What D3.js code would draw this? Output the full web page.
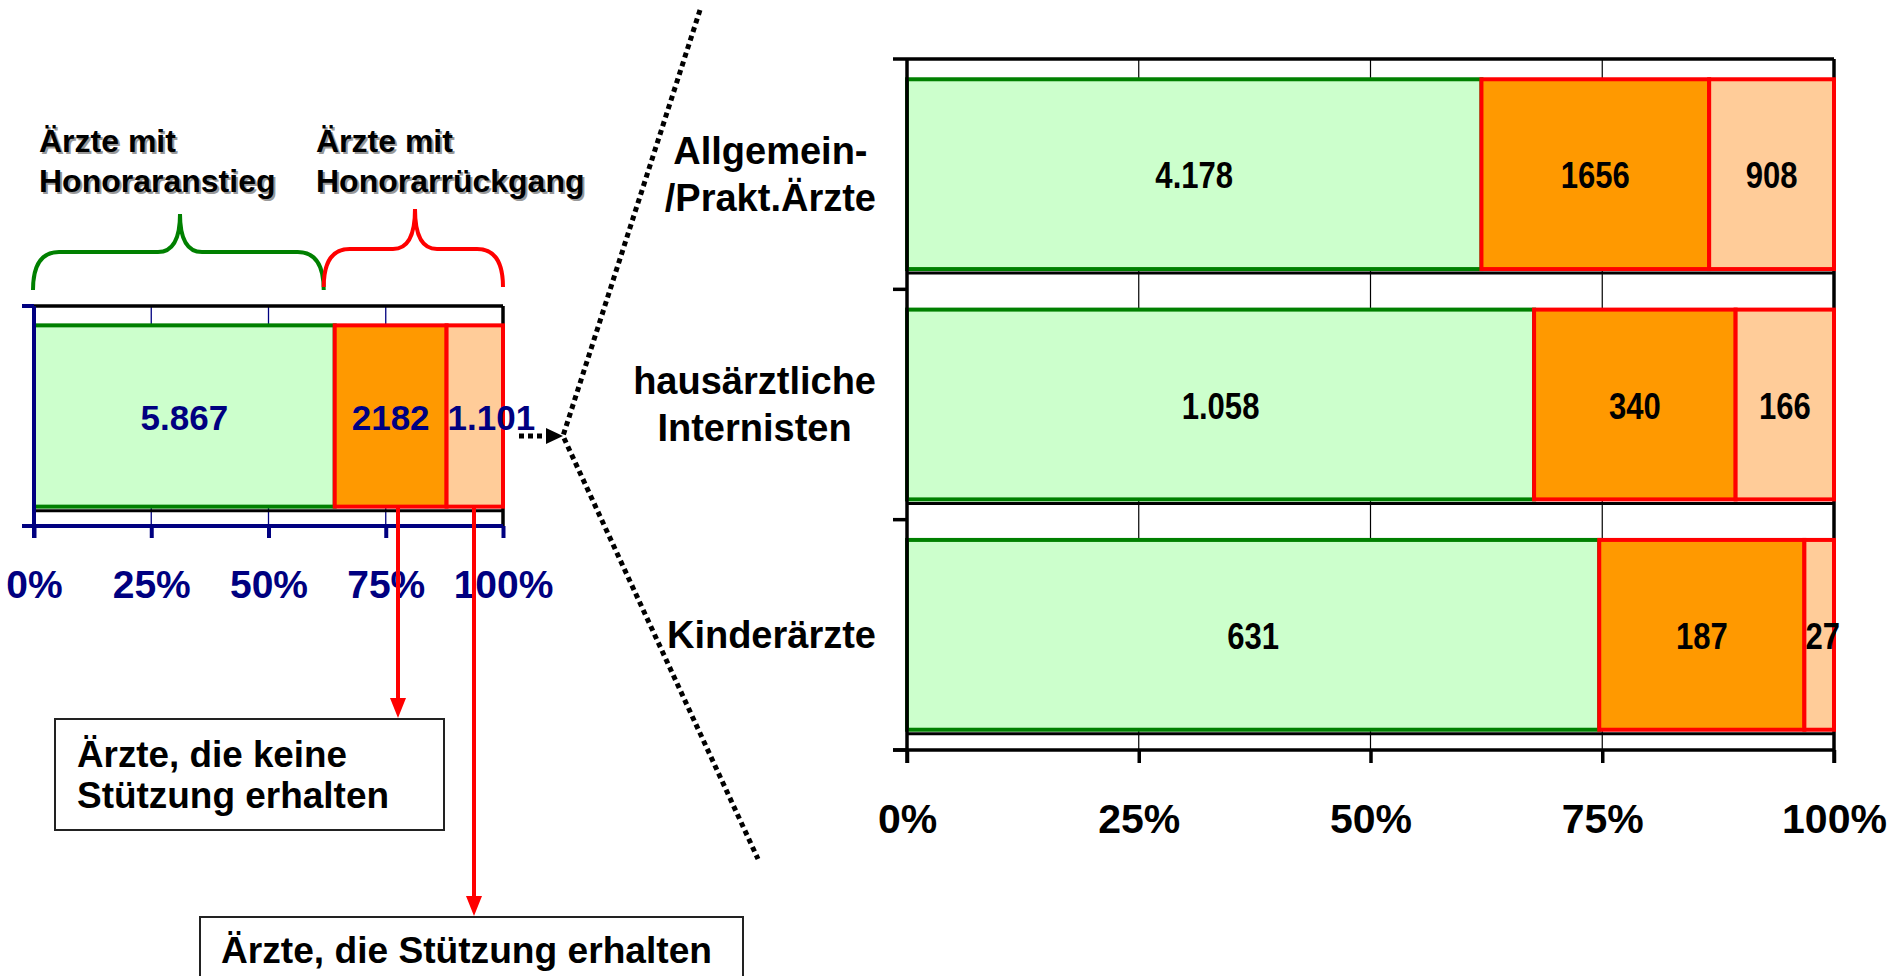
<!DOCTYPE html>
<html><head><meta charset="utf-8">
<script src="https://cdn.jsdelivr.net/npm/d3@7"></script>
<style>
body{margin:0;background:#fff}
svg{display:block}
text{font-family:"Liberation Sans",Arial,Helvetica,sans-serif;font-weight:bold}
</style>
</head><body>
<svg id="c" width="1892" height="976"></svg>
<script>
// ---------- DATA ----------
const segmentKeys = ["anstieg", "keineStuetzung", "stuetzung"];
const totalCategory = ["Alle Ärzte"];
const totalValues = [5867, 2182, 1101];
const totalLabels = ["5.867", "2182", "1.101"];

const categories = ["Allgemein-/Prakt.Ärzte", "hausärztliche Internisten", "Kinderärzte"];
const categoryLines = [["Allgemein-", "/Prakt.Ärzte"], ["hausärztliche", "Internisten"], ["Kinderärzte"]];
const anstieg = [4178, 1058, 631];
const keineStuetzung = [1656, 340, 187];
const stuetzung = [908, 166, 27];
const anstiegLabels = ["4.178", "1.058", "631"];
const keineLabels = ["1656", "340", "187"];
const stuetzungLabels = ["908", "166", "27"];

const tickValues = [0, 0.25, 0.5, 0.75, 1];
const tickLabels = ["0%", "25%", "50%", "75%", "100%"];

const braceTexts = [["Ärzte mit", "Honoraranstieg"], ["Ärzte mit", "Honorarrückgang"]];
const boxTexts = [["Ärzte, die keine", "Stützung erhalten"], ["Ärzte, die Stützung erhalten"]];

// ---------- STYLE ----------
const NAVY = "#000080";
const fills = {anstieg: "#CCFFCC", keineStuetzung: "#FF9900", stuetzung: "#FFCC99"};
const strokes = {anstieg: "#008000", keineStuetzung: "#FF0000", stuetzung: "#FF0000"};

const svg = d3.select("#c");
const stack = d3.stack().keys(segmentKeys).offset(d3.stackOffsetExpand);

// place a label centred in its segment, or left-aligned at the segment start if it does not fit
function placeLabel(sel, x0, x1, sx) {
  const w = sel.node().getComputedTextLength() * sx;
  if (w > (x1 - x0) - 4) return {x: x0 + 1 + w / 2};
  return {x: (x0 + x1) / 2};
}

// ---------- LEFT CHART ----------
const leftRows = totalCategory.map(c => ({cat: c, anstieg: totalValues[0], keineStuetzung: totalValues[1], stuetzung: totalValues[2]}));
const leftSeries = stack(leftRows);
const xL = d3.scaleLinear().domain([0, 1]).range([34, 503]);
const yL = d3.scaleBand().domain(totalCategory).range([306, 526]).paddingInner(0.176).paddingOuter(0.088);
const gL = svg.append("g");

gL.selectAll(".gl").data(tickValues.slice(1, 4)).join("line")
  .attr("x1", d => xL(d)).attr("x2", d => xL(d)).attr("y1", 306).attr("y2", 526)
  .attr("stroke", NAVY).attr("stroke-width", 1.3);
gL.append("line").attr("x1", xL(0)).attr("x2", xL(1)).attr("y1", 306).attr("y2", 306).attr("stroke", "#000").attr("stroke-width", 3.5);
gL.append("line").attr("x1", xL(1)).attr("x2", xL(1)).attr("y1", 306).attr("y2", 526).attr("stroke", "#000").attr("stroke-width", 3.5);

leftSeries.forEach(s => {
  gL.selectAll(null).data(s).join("rect")
    .attr("x", d => xL(d[0])).attr("width", d => xL(d[1]) - xL(d[0]))
    .attr("y", d => yL(d.data.cat)).attr("height", yL.bandwidth())
    .attr("fill", fills[s.key]).attr("stroke", strokes[s.key]).attr("stroke-width", 4);
});
gL.append("line").attr("x1", xL(0)).attr("x2", xL(1))
  .attr("y1", yL(totalCategory[0]) + yL.bandwidth() + 4).attr("y2", yL(totalCategory[0]) + yL.bandwidth() + 4)
  .attr("stroke", "#000").attr("stroke-width", 3);

gL.append("line").attr("x1", xL(0)).attr("x2", xL(0)).attr("y1", 306).attr("y2", 538).attr("stroke", NAVY).attr("stroke-width", 4);
gL.append("line").attr("x1", 22).attr("x2", xL(0)).attr("y1", 306).attr("y2", 306).attr("stroke", NAVY).attr("stroke-width", 4);

const axL = d3.axisBottom(xL).tickValues(tickValues).tickFormat((d, i) => tickLabels[i]).tickSize(12).tickSizeOuter(0);
const axLg = gL.append("g").attr("transform", "translate(0,526)").call(axL);
axLg.select(".domain").attr("d", `M22,0H${xL(1)}`).attr("stroke", NAVY).attr("stroke-width", 4);
axLg.selectAll(".tick line").attr("stroke", NAVY).attr("stroke-width", 4);
axLg.selectAll(".tick text").attr("y", 72).attr("dy", 0).attr("fill", NAVY)
  .style("font-size", "39px").style("font-family", '"Liberation Sans",Arial,sans-serif').style("font-weight", "bold");

leftSeries.forEach((s, si) => {
  s.forEach(d => {
    const t = gL.append("text")
      .attr("y", yL(d.data.cat) + yL.bandwidth() / 2 + 14)
      .attr("text-anchor", "middle").attr("fill", NAVY).style("font-size", "35px")
      .text(totalLabels[si]);
    t.attr("x", placeLabel(t, xL(d[0]), xL(d[1]), 1).x);
  });
});

// braces
function bracePath(x0, x1, yB, yM, yP, xP) {
  const r = 26, r2 = 22;
  return `M${x0},${yB} Q${x0},${yM} ${x0 + r},${yM} L${xP - r2},${yM} Q${xP},${yM} ${xP},${yP} ` +
         `Q${xP},${yM} ${xP + r2},${yM} L${x1 - r},${yM} Q${x1},${yM} ${x1},${yB}`;
}
const gBr = svg.append("g");
const splitX = xL(totalValues[0] / d3.sum(totalValues)) - 11;
gBr.append("path").attr("d", bracePath(33, splitX, 290, 252, 214, 180))
  .attr("fill", "none").attr("stroke", "#008000").attr("stroke-width", 4);
gBr.append("path").attr("d", bracePath(splitX, 503, 287, 249, 209, 415))
  .attr("fill", "none").attr("stroke", "#FF0000").attr("stroke-width", 4);

const braceX = [39, 316];
braceTexts.forEach((lines, bi) => {
  lines.forEach((t, li) => {
    gBr.append("text").attr("x", braceX[bi] + 2).attr("y", 152 + li * 40 + 2)
      .attr("fill", "#999").style("font-size", "32px").text(t);
    gBr.append("text").attr("x", braceX[bi]).attr("y", 152 + li * 40)
      .attr("fill", "#000").style("font-size", "32px").text(t);
  });
});

// red arrows & boxes
const gA = svg.append("g");
const arrows = [{x: 398, y0: 508, y1: 718}, {x: 474, y0: 508, y1: 916}];
arrows.forEach(a => {
  gA.append("line").attr("x1", a.x).attr("x2", a.x).attr("y1", a.y0).attr("y2", a.y1 - 14)
    .attr("stroke", "#FF0000").attr("stroke-width", 4);
  gA.append("path").attr("d", `M${a.x - 8},${a.y1 - 20} L${a.x + 8},${a.y1 - 20} L${a.x},${a.y1} Z`).attr("fill", "#FF0000");
});
gA.append("rect").attr("x", 55).attr("y", 719).attr("width", 389).attr("height", 111)
  .attr("fill", "#fff").attr("stroke", "#222").attr("stroke-width", 2);
gA.append("text").attr("x", 77).attr("y", 767).attr("textLength", 270).attr("lengthAdjust", "spacingAndGlyphs")
  .style("font-size", "36px").text(boxTexts[0][0]);
gA.append("text").attr("x", 77).attr("y", 808).attr("textLength", 312).attr("lengthAdjust", "spacingAndGlyphs")
  .style("font-size", "36px").text(boxTexts[0][1]);
gA.append("rect").attr("x", 200).attr("y", 917).attr("width", 543).attr("height", 80)
  .attr("fill", "#fff").attr("stroke", "#222").attr("stroke-width", 2);
gA.append("text").attr("x", 221).attr("y", 963).attr("textLength", 491).attr("lengthAdjust", "spacingAndGlyphs")
  .style("font-size", "36px").text(boxTexts[1][0]);

// dotted zoom lines
const gD = svg.append("g");
gD.append("line").attr("x1", 519).attr("x2", 548).attr("y1", 436).attr("y2", 436)
  .attr("stroke", "#000").attr("stroke-width", 5).attr("stroke-dasharray", "5,4");
gD.append("path").attr("d", "M546,428 L563,436 L546,444 Z").attr("fill", "#000");
gD.append("path").attr("d", "M700,10 L563,436 L758,859").attr("fill", "none")
  .attr("stroke", "#000").attr("stroke-width", 5).attr("stroke-dasharray", "5,4");

// ---------- RIGHT CHART ----------
const rightRows = categories.map((c, i) => ({cat: c, anstieg: anstieg[i], keineStuetzung: keineStuetzung[i], stuetzung: stuetzung[i]}));
const rightSeries = stack(rightRows);
const rightLabels = {anstieg: anstiegLabels, keineStuetzung: keineLabels, stuetzung: stuetzungLabels};
const xR = d3.scaleLinear().domain([0, 1]).range([907, 1834]);
const yR = d3.scaleBand().domain(categories).range([59, 750]).paddingInner(0.176).paddingOuter(0.088);
const gR = svg.append("g");

gR.selectAll(".gr").data(tickValues.slice(1, 4)).join("line")
  .attr("x1", d => xR(d)).attr("x2", d => xR(d)).attr("y1", 59).attr("y2", 750)
  .attr("stroke", "#000").attr("stroke-width", 1.2);
gR.append("line").attr("x1", xR(0)).attr("x2", xR(1)).attr("y1", 59).attr("y2", 59).attr("stroke", "#000").attr("stroke-width", 3.5);
gR.append("line").attr("x1", xR(1)).attr("x2", xR(1)).attr("y1", 59).attr("y2", 763).attr("stroke", "#000").attr("stroke-width", 3.5);

rightSeries.forEach(s => {
  gR.selectAll(null).data(s).join("rect")
    .attr("x", d => xR(d[0])).attr("width", d => xR(d[1]) - xR(d[0]))
    .attr("y", d => yR(d.data.cat)).attr("height", yR.bandwidth())
    .attr("fill", fills[s.key]).attr("stroke", strokes[s.key]).attr("stroke-width", 4);
});
gR.selectAll(".ul").data(categories).join("line")
  .attr("x1", xR(0)).attr("x2", xR(1))
  .attr("y1", d => yR(d) + yR.bandwidth() + 4).attr("y2", d => yR(d) + yR.bandwidth() + 4)
  .attr("stroke", "#000").attr("stroke-width", 3);

const bounds = categories.map(c => yR(c) - yR.step() * yR.paddingOuter()).concat([750]);
gR.append("line").attr("x1", xR(0)).attr("x2", xR(0)).attr("y1", 59).attr("y2", 763).attr("stroke", "#000").attr("stroke-width", 3.5);
gR.selectAll(".lt").data(bounds).join("line")
  .attr("x1", 893).attr("x2", xR(0)).attr("y1", d => d).attr("y2", d => d)
  .attr("stroke", "#000").attr("stroke-width", 3.5);

const axR = d3.axisBottom(xR).tickValues(tickValues).tickFormat((d, i) => tickLabels[i]).tickSize(13).tickSizeOuter(0);
const axRg = gR.append("g").attr("transform", "translate(0,750)").call(axR);
axRg.select(".domain").attr("d", `M893,0H${xR(1)}`).attr("stroke", "#000").attr("stroke-width", 3.5);
axRg.selectAll(".tick line").attr("stroke", "#000").attr("stroke-width", 3.5);
axRg.selectAll(".tick text").attr("y", 83).attr("dy", 0).attr("fill", "#000")
  .style("font-size", "41px").style("font-family", '"Liberation Sans",Arial,sans-serif').style("font-weight", "bold");

// category labels: block right-aligned, lines centred within the block
categories.forEach((c, i) => {
  const lines = categoryLines[i];
  const cy = yR(c) + yR.bandwidth() / 2;
  const ts = lines.map((t, li) => gR.append("text")
    .attr("y", cy + (li - (lines.length - 1) / 2) * 47 + 13)
    .attr("text-anchor", "middle").attr("fill", "#000")
    .style("font-size", "38px").text(t));
  const maxW = d3.max(ts, t => t.node().getComputedTextLength());
  ts.forEach(t => t.attr("x", 876 - maxW / 2));
});

// value labels (condensed)
const SX = 0.84;
rightSeries.forEach(s => {
  s.forEach(d => {
    const g = gR.append("g");
    const t = g.append("text").attr("text-anchor", "middle").attr("fill", "#000").style("font-size", "37px")
      .text(rightLabels[s.key][categories.indexOf(d.data.cat)]);
    const p = placeLabel(t, xR(d[0]), xR(d[1]), SX);
    g.attr("transform", `translate(${p.x},${yR(d.data.cat) + yR.bandwidth() / 2 + 14}) scale(${SX},1)`);
  });
});
</script>
</body></html>
